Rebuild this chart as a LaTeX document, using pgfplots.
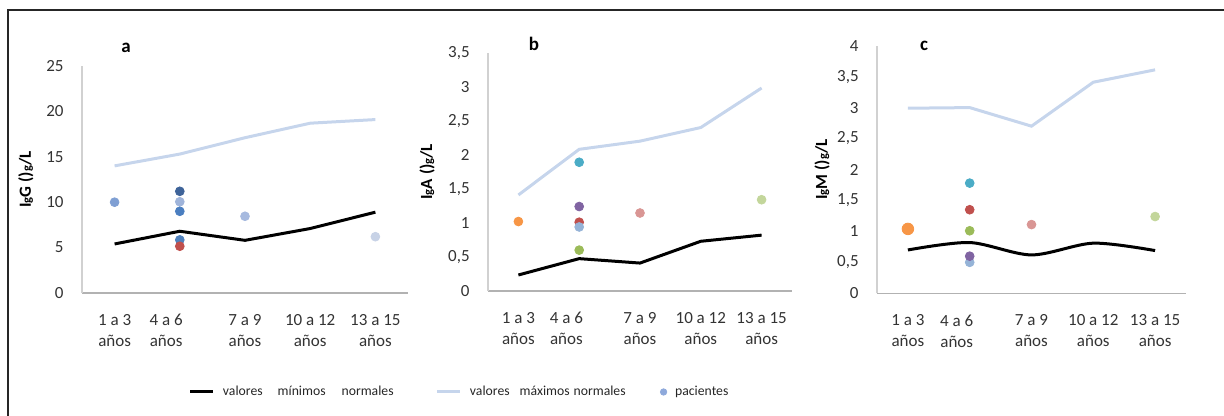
\documentclass[border=0pt]{standalone}
\usepackage{fontspec}
\setmainfont{Carlito}
\usepackage{pgfplots}
\pgfplotsset{compat=1.18}
\definecolor{maxline}{HTML}{C6D5EC}
\definecolor{pacblue}{HTML}{8EA9DB}
\definecolor{cA}{HTML}{7F9FD3}
\definecolor{cB}{HTML}{3E6399}
\definecolor{cC}{HTML}{9FB4DA}
\definecolor{cD}{HTML}{4A7EC0}
\definecolor{cE}{HTML}{4F81BD}
\definecolor{cRed}{HTML}{C0504D}
\definecolor{cF}{HTML}{A7BADF}
\definecolor{cG}{HTML}{C7D2E6}
\definecolor{cOrange}{HTML}{F79646}
\definecolor{cTeal}{HTML}{4BACC6}
\definecolor{cPurple}{HTML}{8064A2}
\definecolor{cLBlue}{HTML}{95B3D7}
\definecolor{cGreen}{HTML}{9BBB59}
\definecolor{cPink}{HTML}{D99694}
\definecolor{cLGreen}{HTML}{C3D69B}
\newcommand{\sg}{{\fontsize{6.3}{7}\selectfont g}}
\pgfplotsset{
  panel/.style={
    scale only axis,
    axis lines*=left,
    axis line style={-},
    x axis line style={draw=black!30, line width=0.6pt},
    y axis line style={draw=black!18, line width=0.6pt},
    xmin=-0.5, xmax=4.5, ymin=0,
    xtick={0,0.79,2,3,4},
    xticklabels={{1 a 3\\años},{4 a 6\\años},{7 a 9\\años},{10 a 12\\años},{13 a 15\\años}},
    major tick length=0pt,
    tick style={draw=none},
    xticklabel style={font=\fontsize{8.5}{10.5}\selectfont, text=black!80, align=center, anchor=north, inner sep=0pt, yshift=-10.5pt},
    yticklabel style={font=\fontsize{8.5}{10}\selectfont, text=black!80, anchor=east, inner sep=0pt, xshift=-9pt},
    ylabel style={font=\fontsize{8.5}{10}\selectfont\bfseries, anchor=center},
    every axis title shift=0pt,
    title style={font=\fontsize{9.5}{11}\selectfont\bfseries, anchor=center},
    clip=false,
  },
  minl/.style={black, line width=1.5pt, mark=none, forget plot},
  maxl/.style={maxline, line width=1.5pt, mark=none, forget plot},
  pt/.style={only marks, mark=*, mark size=2.2pt, color=#1, forget plot},
}
\begin{document}
\begin{tikzpicture}
\useasboundingbox (0,0) rectangle (612pt,208pt);
\draw[line width=1pt, color=black!85] (3.75pt,0pt) -- (3.75pt,203pt) -- (612pt,203pt);
% panel a
\begin{axis}[panel, at={(41pt,61.5pt)}, anchor=south west, width=163pt, height=113.5pt,
  ymax=25, ytick={0,5,10,15,20,25},
  yticklabels={0,5,10,15,20,25},
  ylabel={I\sg G ()\sg/L}, ylabel style={at={(axis description cs:-0.172,0.5)}},
  title={a}, title style={at={(axis description cs:0.135,1.079)}},
  legend columns=3,
  legend style={at={(axis description cs:0.3282,-0.4361)}, anchor=west, draw=none, fill=none,
    inner sep=0pt, outer sep=0pt, nodes={inner sep=0pt, outer sep=0pt},
    font=\fontsize{6.85}{8}\selectfont, text=black!85,
    /tikz/every odd column/.append style={column sep=4pt}},
]
\addplot[maxl] coordinates {(0,14) (1,15.3) (2,17.1) (3,18.7) (4,19.1)};
\addplot[minl] coordinates {(0,5.4) (1,6.8) (2,5.8) (3,7.1) (4,8.9)};
\addplot[pt=cA] coordinates {(0,10)};
\addplot[pt=cB] coordinates {(1,11.2)};
\addplot[pt=cC] coordinates {(1,10.05)};
\addplot[pt=cD] coordinates {(1,9.0)};
\addplot[pt=cE] coordinates {(1,5.85)};
\addplot[pt=cRed] coordinates {(1,5.15)};
\addplot[pt=cF] coordinates {(2,8.45)};
\addplot[pt=cG] coordinates {(4,6.2)};
\addlegendimage{black, line width=1.5pt, legend image code/.code={\draw (0pt,0pt) -- (11.5pt,0pt);}}
\addlegendentry{\makebox[106.5pt][l]{valores\hspace{7.5pt}mínimos\hspace{8pt}normales}}
\addlegendimage{maxline, line width=1.5pt, legend image code/.code={\draw (0pt,0pt) -- (11.5pt,0pt);}}
\addlegendentry{\makebox[95pt][l]{valores\hspace{5pt}máximos\hspace{2pt}normales}}
\addlegendimage{pacblue, legend image code/.code={\fill (0pt,0pt) circle (1.6pt);}}
\addlegendentry{pacientes}
\end{axis}
% panel b
\begin{axis}[panel, at={(244pt,62.5pt)}, anchor=south west, width=152pt, height=119.2pt,
  ymax=3.5, ytick={0,0.5,1,1.5,2,2.5,3,3.5},
  yticklabels={0,{0,5},1,{1,5},2,{2,5},3,{3,5}},
  ylabel={I\sg A ()\sg/L}, ylabel style={at={(axis description cs:-0.20,0.5)}},
  title={b}, title style={at={(axis description cs:0.151,1.037)}},
]
\addplot[maxl] coordinates {(0,1.41) (1,2.08) (2,2.2) (3,2.4) (4,2.98)};
\addplot[minl] coordinates {(0,0.235) (1,0.475) (2,0.41) (3,0.73) (4,0.82)};
\addplot[pt=cOrange] coordinates {(0,1.02)};
\addplot[pt=cTeal] coordinates {(1,1.89)};
\addplot[pt=cPurple] coordinates {(1,1.24)};
\addplot[pt=cRed] coordinates {(1,1.01)};
\addplot[pt=cLBlue] coordinates {(1,0.94)};
\addplot[pt=cGreen] coordinates {(1,0.60)};
\addplot[pt=cPink] coordinates {(2,1.145)};
\addplot[pt=cLGreen] coordinates {(4,1.34)};
\end{axis}
% panel c
\begin{axis}[panel, at={(438.5pt,61.35pt)}, anchor=south west, width=154.5pt, height=123.8pt,
  ymax=4, ytick={0,0.5,1,1.5,2,2.5,3,3.5,4},
  yticklabels={0,{0,5},1,{1,5},2,{2,5},3,{3,5},4},
  ylabel={I\sg M ()\sg/L}, ylabel style={at={(axis description cs:-0.178,0.5)}},
  title={c}, title style={at={(axis description cs:0.152,1.0)}},
]
\addplot[maxl] coordinates {(0,2.99) (1,3.0) (2,2.70) (3,3.41) (4,3.61)};
\addplot[minl, smooth] coordinates {(0,0.70) (1,0.82) (2,0.62) (3,0.81) (4,0.69)};
\addplot[pt=cOrange, mark size=2.9pt] coordinates {(0,1.04)};
\addplot[pt=cTeal] coordinates {(1,1.78)};
\addplot[pt=cRed] coordinates {(1,1.35)};
\addplot[pt=cGreen] coordinates {(1,1.01)};
\addplot[pt=cLBlue] coordinates {(1,0.50)};
\addplot[pt=cPurple] coordinates {(1,0.60)};
\addplot[pt=cPink] coordinates {(2,1.11)};
\addplot[pt=cLGreen] coordinates {(4,1.24)};
\end{axis}
\end{tikzpicture}
\end{document}
